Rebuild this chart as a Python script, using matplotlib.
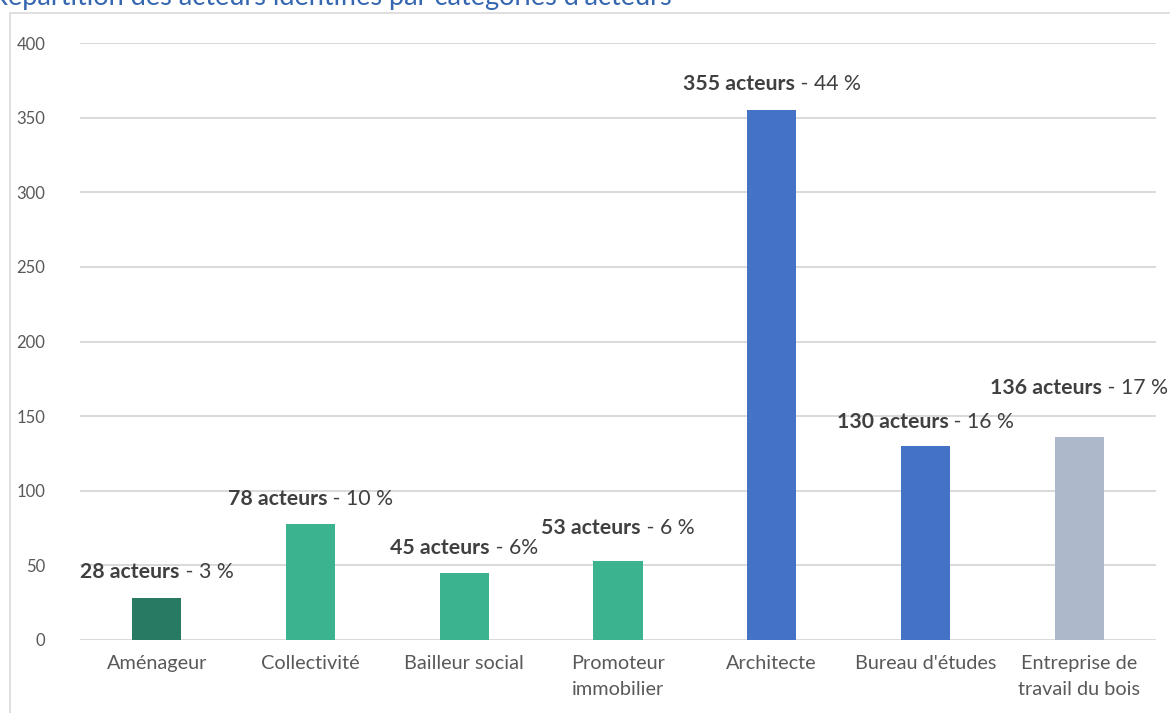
import matplotlib
matplotlib.use('Agg')

import matplotlib.pyplot as plt
from matplotlib.patches import Rectangle
from matplotlib.offsetbox import TextArea, HPacker, AnnotationBbox

# ---- data ----
categories = ['Aménageur', 'Collectivité', 'Bailleur social', 'Promoteur\nimmobilier',
              'Architecte', "Bureau d'études", 'Entreprise de\ntravail du bois']
actors = [28, 78, 45, 53, 355, 130, 136]
shares = ['3 %', '10 %', '6%', '6 %', '44 %', '16 %', '17 %']

# ---- style ----
bar_colors = ['#287A62', '#3BB38F', '#3BB38F', '#3BB38F', '#4472C4', '#4472C4', '#ADB9CA']
label_lift = [19, 18, 18, 24, 19, 17, 35]   # points above bar top
GRID = '#D9D9D9'
TXT = '#595959'
plt.rcParams['font.family'] = ['Lato', 'DejaVu Sans']

fig = plt.figure(figsize=(11.7, 7.13), dpi=100)
ax = fig.add_axes([80 / 1170, 73 / 713, 1076 / 1170, 597 / 713])

x = range(len(categories))
ax.bar(x, actors, width=0.32, color=bar_colors, zorder=3)

ax.set_xlim(-0.5, len(categories) - 0.5)
ax.set_ylim(0, 400)
ax.set_yticks(range(0, 401, 50))
ax.set_xticks(list(x))
ax.set_xticklabels(categories, linespacing=1.6)
ax.tick_params(axis='y', length=0, pad=25, labelsize=12, labelcolor=TXT)
ax.tick_params(axis='x', length=0, pad=11, labelsize=14.3, labelcolor=TXT)
for lbl in ax.get_xticklabels():
    lbl.set_verticalalignment('top')

ax.grid(axis='y', color=GRID, linewidth=1.4, zorder=0)
for s in ax.spines.values():
    s.set_visible(False)

# value labels: bold count + regular share
for i, (n, pct) in enumerate(zip(actors, shares)):
    box = HPacker(children=[
        TextArea(f'{n} acteurs', textprops=dict(fontsize=15.3, fontweight='bold', color='#404040')),
        TextArea(f' - {pct}', textprops=dict(fontsize=15.3, color='#404040')),
    ], align='baseline', pad=0, sep=0)
    ab = AnnotationBbox(box, (i, n), xybox=(0, label_lift[i]), boxcoords='offset points',
                        frameon=False, box_alignment=(0.5, 0.5), annotation_clip=False,
                        zorder=5)
    ax.add_artist(ab)

# outer chart frame
fig.patches.append(Rectangle((10 / 1170, -0.1), 1.2, (713 - 13) / 713 + 0.1,
                             transform=fig.transFigure, fill=False,
                             edgecolor=GRID, linewidth=1.2))

fig.text(-9 / 1170, 708 / 713, "Répartition des acteurs identifiés par catégories d'acteurs",
         fontsize=19.5, color='#3566B0', ha='left', va='baseline')

fig.savefig('out.png', dpi=100)
